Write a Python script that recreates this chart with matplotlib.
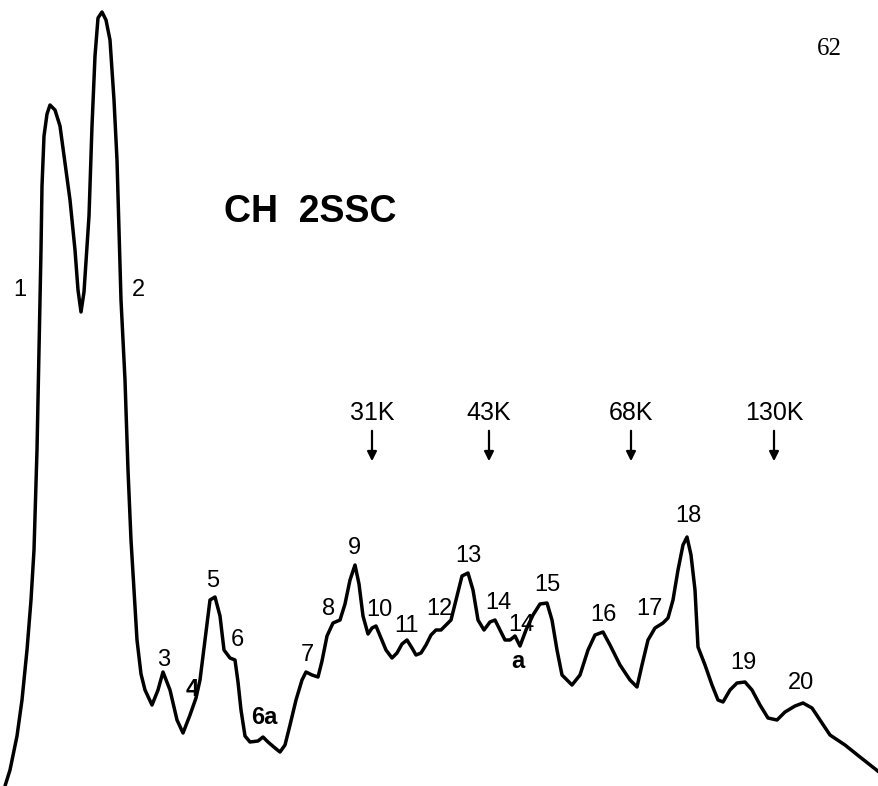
#Densitometer scan of gel lane, CH 2SSC
import matplotlib
matplotlib.use('Agg')
import matplotlib.pyplot as plt

#Migration distance along the scan (arbitrary units)
distance = [5, 10, 17, 22, 27, 31, 34, 37, 39, 41, 42, 44, 47, 50, 55, 60, 66, 70, 75, 78, 81, 84, 87, 89, 92, 95,
            98, 102, 106, 110, 114, 117, 119, 121, 125, 128, 131, 134, 137, 141, 145, 152, 158, 163, 170, 177,
            183, 190, 196, 200, 205, 210, 215, 220, 224, 230, 235, 238, 241, 245, 250, 258, 263, 268, 275, 280,
            285, 290, 296, 302, 306, 312, 318, 322, 327, 333, 340, 345, 350, 355, 359, 363, 368, 372, 376, 381,
            386, 392, 397, 402, 407, 412, 416, 421, 426, 431, 436, 441, 446, 451, 456, 462, 468, 473, 478, 484,
            490, 495, 500, 505, 510, 515, 520, 526, 533, 540, 547, 552, 557, 562, 572, 580, 588, 595, 603, 610,
            620, 630, 637, 642, 648, 655, 663, 668, 673, 678, 683, 687, 691, 695, 698, 705, 712, 718, 723, 730,
            737, 745, 752, 760, 768, 777, 785, 795, 803, 812, 820, 830, 845, 860, 879]
#Optical density
density = [0, 16, 50, 86, 136, 186, 236, 336, 436, 536, 600, 650, 672, 681, 676, 660, 616, 586, 536, 496, 474,
           494, 540, 570, 660, 730, 768, 774, 766, 746, 686, 626, 556, 486, 406, 316, 246, 196, 146, 112, 96, 81,
           96, 114, 96, 66, 53, 71, 88, 106, 146, 186, 189, 170, 136, 128, 126, 104, 76, 50, 44, 45, 49, 44, 38,
           34, 41, 61, 86, 106, 114, 111, 109, 125, 150, 163, 166, 182, 206, 221, 202, 170, 152, 158, 160, 148,
           136, 128, 133, 142, 146, 138, 131, 133, 141, 151, 156, 156, 161, 166, 186, 210, 213, 196, 166, 156,
           164, 166, 156, 146, 146, 150, 140, 156, 171, 182, 183, 166, 136, 111, 101, 111, 136, 151, 154, 141,
           121, 106, 99, 121, 146, 158, 163, 168, 186, 216, 241, 249, 231, 196, 139, 121, 101, 86, 84, 96, 103,
           104, 96, 81, 68, 66, 74, 80, 83, 78, 66, 51, 41, 29, 14]

#Band numbers placed beside the peaks
band_labels = ['1', '2', '3', '4', '5', '6', '6a', '7', '8', '9', '10', '11', '12', '13', '14', '14', 'a', '15',
               '16', '17', '18', '19', '20']
band_x = [20, 138, 164, 192, 213, 237, 264, 307, 329, 354, 379, 407, 439, 468, 498, 521, 518, 547, 603, 649,
          688, 743, 801]
band_y = [496, 496, 126, 96, 205, 146, 68, 131, 177, 238, 176, 160, 177, 230, 183, 161, 124, 201, 171, 177,
          270, 123, 103]

#Molecular weight markers
marker_labels = ['31K', '43K', '68K', '130K']
marker_x = [372, 489, 631, 774]

fig = plt.figure(figsize=(8.79, 7.86), dpi=100)
ax = fig.add_axes([0, 0, 1, 1])
ax.set_xlim(0, 879)
ax.set_ylim(0, 786)
ax.axis('off')

ax.plot(distance, density, color='black', lw=2.5, solid_joinstyle='round', solid_capstyle='round')

for lab, x, y in zip(band_labels, band_x, band_y):
    ax.text(x, y, lab, ha='center', va='center', fontsize=17, family='Liberation Sans',
            fontweight='bold' if lab in ('4', '6a', 'a') else 'normal')

for lab, x in zip(marker_labels, marker_x):
    ax.text(x, 373, lab, ha='center', va='center', fontsize=18, family='Liberation Sans')
    ax.annotate('', xy=(x, 322), xytext=(x, 358),
                arrowprops=dict(arrowstyle='-|>', color='black', lw=1.6, mutation_scale=14))

ax.text(310, 574, 'CH  2SSC', ha='center', va='center', fontsize=27, fontweight='bold',
        family='Liberation Sans')
ax.text(829, 737, '62', ha='center', va='center', fontsize=18, family='Liberation Serif')

fig.savefig('out.png', dpi=100)
